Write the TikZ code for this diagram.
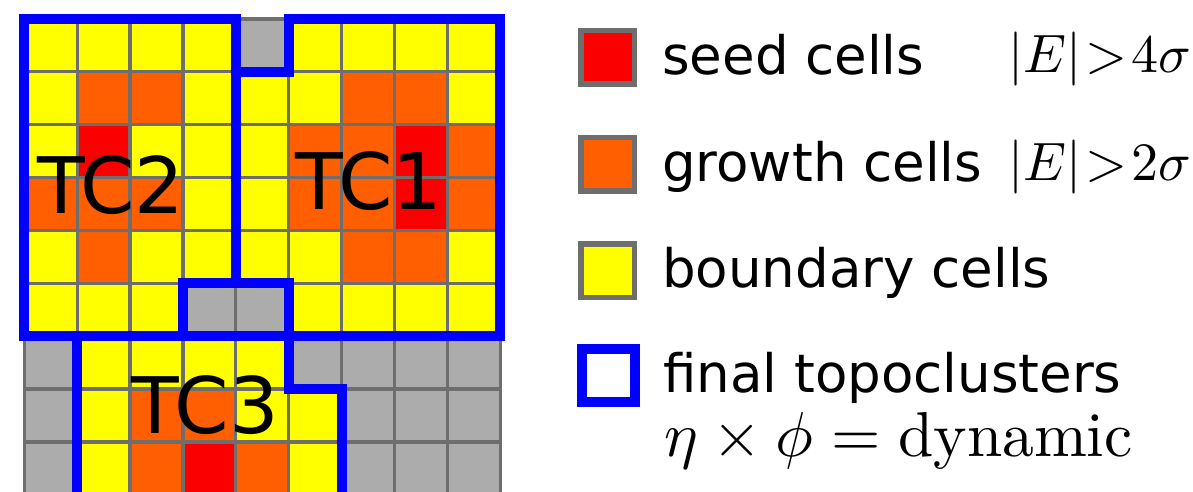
\documentclass[tikz,border=0pt]{standalone}
\usepackage{fontspec}
\newfontfamily\dvs{DejaVu Sans}
\definecolor{cellY}{HTML}{FFFF00}
\definecolor{cellO}{HTML}{FF5F00}
\definecolor{cellR}{HTML}{FA0000}
\definecolor{cellG}{HTML}{ACACAC}
\definecolor{gridgray}{HTML}{6E6E6E}
\definecolor{tcblue}{HTML}{0000FF}
\tikzset{
  gridline/.style={draw=gridgray, line width=3.2pt},
  tcline/.style={draw=tcblue, line width=10pt, line join=miter},
  tclabel/.style={font=\dvs\fontsize{78}{90}\selectfont, anchor=base west, inner sep=0pt, text=black},
  legtext/.style={font=\dvs\fontsize{53}{60}\selectfont, anchor=base west, inner sep=0pt},
  legmath/.style={font=\fontsize{10}{12}\selectfont, scale=5.4, anchor=base west, inner sep=0pt},
  dynmath/.style={font=\fontsize{10}{12}\selectfont, scale=6.35, anchor=base west, inner sep=0pt},
  legbox/.style={draw=gridgray, line width=5.5pt, minimum size=53.5pt, inner sep=0pt},
  legtc/.style={draw=tcblue, line width=10pt, minimum size=53pt, inner sep=0pt, fill=white}
}
\begin{document}
\begin{tikzpicture}[x=1pt,y=-1pt]
\useasboundingbox (0,0) rectangle (1193,492);
\clip (0,0) rectangle (1193,492);
% cells
\foreach \row [count=\r from 0] in {
  {Y,Y,Y,Y,G,Y,Y,Y,Y},
  {Y,O,O,Y,Y,Y,O,O,Y},
  {Y,R,Y,Y,Y,O,O,R,O},
  {O,O,O,Y,Y,O,O,R,O},
  {Y,O,Y,Y,Y,Y,O,O,Y},
  {Y,Y,Y,G,G,Y,Y,Y,Y},
  {G,Y,Y,Y,Y,G,G,G,G},
  {G,Y,O,O,Y,Y,G,G,G},
  {G,Y,O,R,O,Y,G,G,G}} {
  \foreach \k [count=\c from 0] in \row {
    \fill[fill=cell\k] ({24.3+\c*52.87},{19+\r*52.87}) rectangle ++(52.87,52.87);
  }
}
% grid lines
\foreach \i in {0,...,9} {
  \draw[gridline] ({24.3+\i*52.87},19) -- ++(0,475.83);
  \draw[gridline] (24.3,{19+\i*52.87}) -- ++(475.83,0);
}
% topocluster outlines
\draw[tcline] (24.3,19) -- (235.78,19) -- (235.78,283.35) -- (182.91,283.35)
  -- (182.91,336.22) -- (24.3,336.22) -- cycle;
\draw[tcline] (288.65,19) -- (500.13,19) -- (500.13,336.22) -- (288.65,336.22)
  -- (288.65,283.35) -- (235.78,283.35) -- (235.78,71.87) -- (288.65,71.87) -- cycle;
\draw[tcline] (77.17,336.22) -- (288.65,336.22) -- (288.65,389.09) -- (341.52,389.09)
  -- (341.52,515) -- (77.17,515) -- cycle;
% cluster labels
\node[tclabel] (tc2) at (37,213) {TC2};
\node[tclabel] (tc1) at (295,209.5) {TC1};
\node[tclabel] (tc3) at (131.5,433.5) {TC3};
% legend
\node[legbox, fill=cellR] (kseed) at (607.5,57.5) {};
\node[legbox, fill=cellO] (kgrow) at (607.5,164) {};
\node[legbox, fill=cellY] (kbound) at (607.5,270.5) {};
\node[legtc] (ktc) at (608.5,375) {};
\node[legtext] (tseed) at (662,75) {seed cells};
\node[legtext] (tgrow) at (662,181) {growth cells};
\node[legtext] (tbound) at (662,287) {boundary cells};
\node[legtext] (ttc) at (663,392) {final topoclusters};
\node[legmath] (mseed) at (1007,73) {$|E|\mskip1.4mu{>}\mskip1.4mu4\sigma$};
\node[legmath] (mgrow) at (1007,180) {$|E|\mskip1.4mu{>}\mskip1.4mu2\sigma$};
\node[dynmath] (mdyn) at (663,456) {$\eta\times\phi=\mathrm{dynamic}$};
\end{tikzpicture}
\end{document}
